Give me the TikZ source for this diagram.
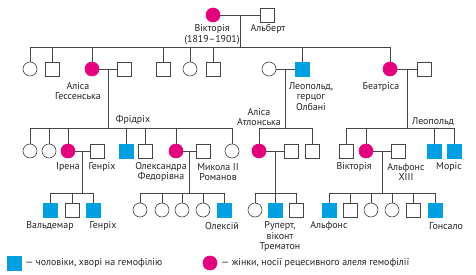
\documentclass[tikz,border=0pt]{standalone}
\usepackage{fontspec}
\setmainfont{PT Sans}
\usetikzlibrary{calc}
\definecolor{hblue}{RGB}{0,160,227}
\definecolor{hmag}{RGB}{230,0,126}
\definecolor{lc}{RGB}{70,70,70}
\definecolor{txt}{RGB}{35,35,35}
\tikzset{
  male/.style={draw=lc, rectangle, minimum size=14pt, inner sep=0pt, line width=0.6pt, fill=white},
  fem/.style={draw=lc, circle, minimum size=14pt, inner sep=0pt, line width=0.6pt, fill=white},
  sick/.style={male, fill=hblue, draw=hblue},
  carrier/.style={fem, fill=hmag, draw=hmag},
  lbl/.style={font=\fontsize{9.9}{10.5}\selectfont, align=center, text=txt, inner sep=0pt},
  ln/.style={draw=lc, line width=0.6pt}
}
\begin{document}
\begin{tikzpicture}[x=1pt,y=-1pt]
\useasboundingbox (0,0) rectangle (476,275);
% generation 1
\node[carrier] (vic) at (213,15) {};
\node[male] (alb) at (267.5,15) {};
% generation 2
\node[fem] (g2a) at (30,69) {};
\node[male] (g2b) at (52,69) {};
\node[carrier] (alice) at (92,69) {};
\node[male] (ludwig) at (124,69) {};
\node[male] (g2e) at (163,69) {};
\node[fem] (g2f) at (190,69) {};
\node[male] (g2g) at (213,69) {};
\node[fem] (helena) at (269,69) {};
\node[sick] (leo) at (302,69) {};
\node[carrier] (bea) at (390,69) {};
\node[male] (henb) at (424,69) {};
% generation 3
\node[fem] (g3a) at (30,151) {};
\node[fem] (g3b) at (49,151) {};
\node[carrier] (irene) at (68,151) {};
\node[male] (henp) at (97,151) {};
\node[sick] (fried) at (126,151) {};
\node[male] (g3e) at (145,151) {};
\node[carrier] (alex) at (176,151) {};
\node[male] (nick) at (203,151) {};
\node[fem] (g3h) at (232,151) {};
\node[carrier] (alath) at (259,151) {};
\node[male] (alcam) at (291,151) {};
\node[male] (g3k) at (312,151) {};
\node[male] (g3l) at (346,151) {};
\node[carrier] (vicE) at (366,151) {};
\node[male] (alf13) at (398,151) {};
\node[sick] (leop) at (434,151) {};
\node[sick] (mor) at (454,151) {};
% generation 4
\node[sick] (wald) at (50,210) {};
\node[male] (g4b) at (72,210) {};
\node[sick] (henr) at (93,210) {};
\node[fem] (g4d) at (140,210) {};
\node[fem] (g4e) at (162,210) {};
\node[fem] (g4f) at (182,210) {};
\node[fem] (g4g) at (203,210) {};
\node[sick] (alexei) at (224,210) {};
\node[fem] (g4i) at (255,210) {};
\node[sick] (rup) at (275,210) {};
\node[male] (g4k) at (296,210) {};
\node[sick] (alfo) at (329,210) {};
\node[male] (g4m) at (350,210) {};
\node[fem] (g4n) at (371,210) {};
\node[fem] (g4o) at (392,210) {};
\node[male] (g4p) at (413,210) {};
\node[sick] (gon) at (435,210) {};
% Victoria + Albert
\coordinate (mVA) at ($(vic)!0.5!(alb)$);
\coordinate (s1) at ($(mVA)+(0,32)$);
\draw[ln] (vic.east) -- (alb.west);
\draw[ln] (mVA) -- (s1);
\draw[ln] (g2a |- s1) -- (bea |- s1);
\foreach \n in {g2a,g2b,alice,g2e,g2f,g2g,leo,bea} \draw[ln] (\n |- s1) -- (\n.north);
% Alice + Ludwig
\coordinate (mAL) at ($(alice)!0.5!(ludwig)$);
\coordinate (s2) at ($(mAL)+(0,59)$);
\draw[ln] (alice.east) -- (ludwig.west);
\draw[ln] (mAL) -- (s2);
\draw[ln] (g3a |- s2) -- (g3h |- s2);
\foreach \n in {g3a,g3b,irene,fried,g3e,alex,g3h} \draw[ln] (\n |- s2) -- (\n.north);
% Helena + Leopold
\coordinate (mHL) at ($(helena)!0.5!(leo)$);
\coordinate (s3) at ($(mHL)+(0,59)$);
\draw[ln] (helena.east) -- (leo.west);
\draw[ln] (mHL) -- (s3);
\draw[ln] (alath |- s3) -- (g3k |- s3);
\foreach \n in {alath,g3k} \draw[ln] (\n |- s3) -- (\n.north);
% Beatrice + Henry
\coordinate (mBH) at ($(bea)!0.5!(henb)$);
\coordinate (s4) at ($(mBH)+(0,59)$);
\draw[ln] (bea.east) -- (henb.west);
\draw[ln] (mBH) -- (s4);
\draw[ln] (g3l |- s4) -- (mor |- s4);
\foreach \n in {g3l,vicE,leop,mor} \draw[ln] (\n |- s4) -- (\n.north);
% Irene + Henry
\coordinate (mIH) at ($(irene)!0.5!(henp)$);
\coordinate (s5) at ($(mIH)+(0,42)$);
\draw[ln] (irene.east) -- (henp.west);
\draw[ln] (mIH) -- (s5);
\draw[ln] (wald |- s5) -- (henr |- s5);
\foreach \n in {wald,g4b,henr} \draw[ln] (\n |- s5) -- (\n.north);
% Alexandra + Nicholas
\coordinate (mAN) at ($(alex)!0.5!(nick)$);
\coordinate (s6) at ($(mAN)+(0,42)$);
\draw[ln] (alex.east) -- (nick.west);
\draw[ln] (mAN) -- (s6);
\draw[ln] (g4d |- s6) -- (alexei |- s6);
\foreach \n in {g4d,g4e,g4f,g4g,alexei} \draw[ln] (\n |- s6) -- (\n.north);
% Alice of Athlone + Alexander
\coordinate (mAA) at ($(alath)!0.5!(alcam)$);
\coordinate (s7) at ($(mAA)+(0,42)$);
\draw[ln] (alath.east) -- (alcam.west);
\draw[ln] (mAA) -- (s7);
\draw[ln] (g4i |- s7) -- (g4k |- s7);
\foreach \n in {g4i,rup,g4k} \draw[ln] (\n |- s7) -- (\n.north);
% Victoria Eugenie + Alfonso XIII
\coordinate (mVE) at ($(vicE)!0.5!(alf13)$);
\coordinate (s8) at ($(mVE)+(0,42)$);
\draw[ln] (vicE.east) -- (alf13.west);
\draw[ln] (mVE) -- (s8);
\draw[ln] (alfo |- s8) -- (gon |- s8);
\foreach \n in {alfo,g4m,g4n,g4o,g4p,gon} \draw[ln] (\n |- s8) -- (\n.north);
% labels
\node[lbl] (tvic) at (212,34.5) {Вікторія\\(1819–1901)};
\node[lbl] (talb) at (268,29) {Альберт};
\node[lbl] (talice) at (78,91) {Аліса\\Гессенська};
\node[lbl] (tleo) at (311,96.5) {Леопольд,\\герцог\\Олбані};
\node[lbl] (tbea) at (381,87) {Беатріса};
\node[lbl] (tfried) at (133,120) {Фрідріх};
\node[lbl] (talath) at (259,117) {Аліса\\Атлонська};
\node[lbl] (tleop) at (433,122) {Леопольд};
\node[lbl] (tirene) at (68,167) {Ірена};
\node[lbl] (thenp) at (102,167) {Генріх};
\node[lbl] (talex) at (161,172) {Олександра\\Федорівна};
\node[lbl] (tnick) at (218,172) {Микола II\\Романов};
\node[lbl] (tvicE) at (354,167) {Вікторія};
\node[lbl] (talf13) at (406,172) {Альфонс\\XIII};
\node[lbl] (tmor) at (449,167) {Моріс};
\node[lbl] (twald) at (50,226) {Вальдемар};
\node[lbl] (thenr) at (103,226) {Генріх};
\node[lbl] (talexei) at (222,226) {Олексій};
\node[lbl] (trup) at (280,236.5) {Руперт,\\віконт\\Трематон};
\node[lbl] (talfo) at (329,226) {Альфонс};
\node[lbl] (tgon) at (446,226) {Гонсало};
% legend
\node[sick] (legm) at (14,263) {};
\node[lbl, anchor=west] (legmt) at (25,263) {— чоловіки, хворі на гемофілію};
\node[carrier] (legf) at (210,263) {};
\node[lbl, anchor=west] (legft) at (221,263) {— жінки, носії рецесивного алеля гемофілії};
\end{tikzpicture}
\end{document}
